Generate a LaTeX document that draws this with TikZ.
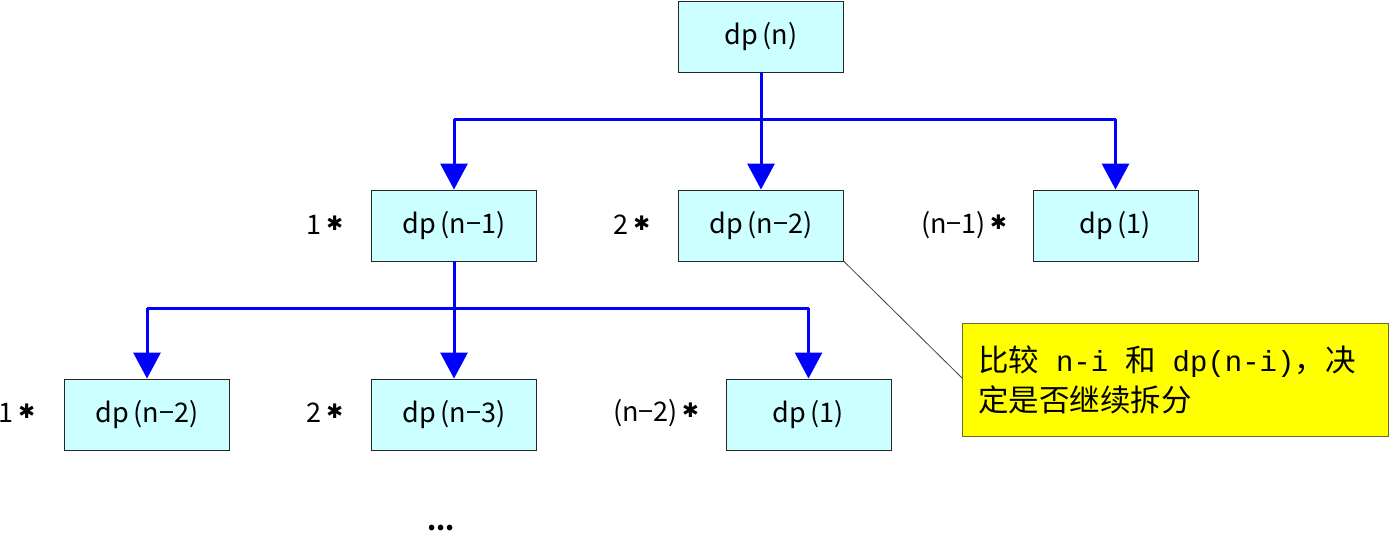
\documentclass[tikz,border=0pt]{standalone}
\usepackage{fontspec}
\setmainfont{Noto Sans CJK SC}
\newfontfamily\cjk{Noto Sans CJK SC}
\newfontfamily\monof{Liberation Mono}
\newfontfamily\symf{DejaVu Sans}
\usetikzlibrary{arrows.meta}
\definecolor{boxfill}{HTML}{CCFFFF}
\definecolor{arrowblue}{HTML}{0000FF}
\definecolor{noteyellow}{HTML}{FFFF00}
\definecolor{noteedge}{HTML}{6B6B2A}
\newcommand{\mn}{−}
\newcommand{\mystar}{\,\raisebox{4pt}{\symf\fontsize{20}{20}\selectfont ✱}}
\newcommand{\lat}[1]{{\monof\fontsize{29}{40}\selectfont #1}}
\newcommand{\gap}{\hspace{17pt}}
\begin{document}
\begin{tikzpicture}[x=1pt,y=-1pt,
  dpbox/.style={draw=black!85,fill=boxfill,line width=0.9pt,minimum width=165pt,minimum height=71pt,inner sep=0pt,font=\fontsize{27}{30}\selectfont},
  mult/.style={font=\fontsize{27}{30}\selectfont,inner sep=0pt},
  link/.style={draw=arrowblue,line width=3pt},
  arr/.style={link,-{Triangle[width=27pt,length=26pt]}},
  note/.style={draw=noteedge,fill=noteyellow,line width=1pt,minimum width=426pt,minimum height=113pt,inner sep=0pt,text width=394pt,align=left,font=\fontsize{30.5}{40}\selectfont}
]
\useasboundingbox (0,0) rectangle (1389,554);
% nodes
\node[dpbox] (n) at (761,36.5) {dp\,(n)};
\node[dpbox] (a1) at (454,225.5) {dp\,(n\mn1)};
\node[dpbox] (a2) at (761,225.5) {dp\,(n\mn2)};
\node[dpbox] (a3) at (1115.5,225.5) {dp\,(1)};
\node[dpbox] (b1) at (147,414.5) {dp\,(n\mn2)};
\node[dpbox] (b2) at (454,414.5) {dp\,(n\mn3)};
\node[dpbox] (b3) at (808.5,414.5) {dp\,(1)};
% multipliers
\node[mult] (m1) at (325,225) {1\mystar};
\node[mult] (m2) at (632,225) {2\mystar};
\node[mult] (m3) at (964,225) {(n\mn1)\mystar};
\node[mult] (k1) at (17,413) {1\mystar};
\node[mult] (k2) at (325,413) {2\mystar};
\node[mult] (k3) at (656,413) {(n\mn2)\mystar};
\node[font=\bfseries\fontsize{26}{30}\selectfont,inner sep=0pt] (dots) at (441,528) {...};
% connectors level 1
\coordinate (j0) at (761,119);
\coordinate (jl) at (454,119);
\coordinate (jr) at (1115.5,119);
\draw[link] (n.south) -- (j0);
\draw[link] (jl) -- (jr);
\draw[arr] (jl) -- (a1.north);
\draw[arr] (j0) -- (a2.north);
\draw[arr] (jr) -- (a3.north);
% connectors level 2
\coordinate (i0) at (454,308);
\coordinate (il) at (147,308);
\coordinate (ir) at (808.5,308);
\draw[link] (a1.south) -- (i0);
\draw[link] (il) -- (ir);
\draw[arr] (il) -- (b1.north);
\draw[arr] (i0) -- (b2.north);
\draw[arr] (ir) -- (b3.north);
% callout
\node[note] (c) at (1175,379.5) {比较\gap\lat{n-i}\gap 和\gap\lat{dp(n-i)}，决\\定是否继续拆分};
\coordinate (ct) at (962,378);
\draw[black!75,line width=0.8pt] (a2.south east) -- (ct);
\end{tikzpicture}
\end{document}
